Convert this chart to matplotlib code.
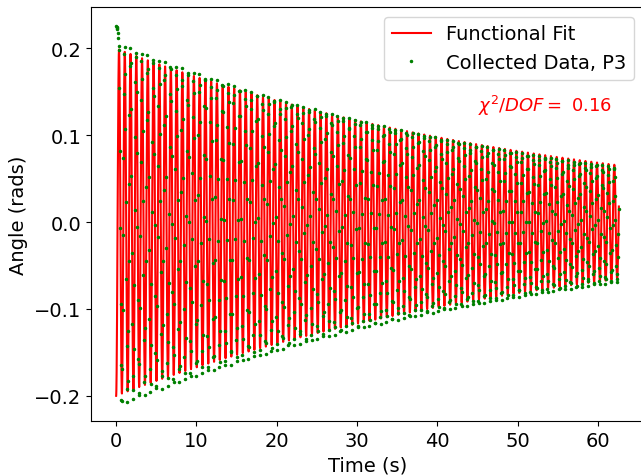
import numpy as np
import matplotlib
matplotlib.use("Agg")
import matplotlib.pyplot as plt

# Fit parameters (damped cosine)
fit_amplitude = 0.200      # rad at t = 0
fit_tau = 56.0             # s, decay time
fit_period = 0.717         # s
fit_phase = np.pi          # starts at the negative extreme
t_end = 62.6               # s
sample_dt = 0.05           # s

# Collected data: initial hold before release, then the swing
hold_times = [0.00, 0.05, 0.10, 0.15, 0.20, 0.25]
hold_angles = [0.226, 0.225, 0.224, 0.222, 0.218, 0.212]
data_amplitude = 0.210
data_offset = -0.003
data_tau = 54.0

chi2_dof = 0.16

t_fit = np.arange(0, t_end, 0.01)
fit = fit_amplitude * np.exp(-t_fit / fit_tau) * np.cos(2 * np.pi * t_fit / fit_period + fit_phase)

t_swing = np.arange(0.3, t_end, sample_dt)
swing = data_offset + data_amplitude * np.exp(-t_swing / data_tau) * np.cos(2 * np.pi * t_swing / fit_period + fit_phase + 0.35)
t_data = np.concatenate([hold_times, t_swing])
y_data = np.concatenate([hold_angles, swing])

plt.rcParams['font.size'] = 14
fig = plt.figure(figsize=(6.41, 4.77), dpi=100)
ax = fig.add_axes([91 / 641, 1 - 422 / 477, (644 - 91) / 641, (422 - 8) / 477])
ax.plot(t_fit, fit, color='red', lw=1.5, label='Functional Fit')
ax.plot(t_data, y_data, '.', color='green', ms=3, label='Collected Data, P3')
ax.set_xlabel('Time (s)')
ax.set_ylabel('Angle (rads)')
ax.set_xticks([0, 10, 20, 30, 40, 50, 60])
ax.set_yticks([-0.2, -0.1, 0.0, 0.1, 0.2])
ax.legend(loc='upper right')
ax.text(45, 0.128, r'$\chi^2/DOF=$ ' + f'{chi2_dof:.2f}', color='red', fontsize=13)
fig.savefig('out.png', dpi=100)
